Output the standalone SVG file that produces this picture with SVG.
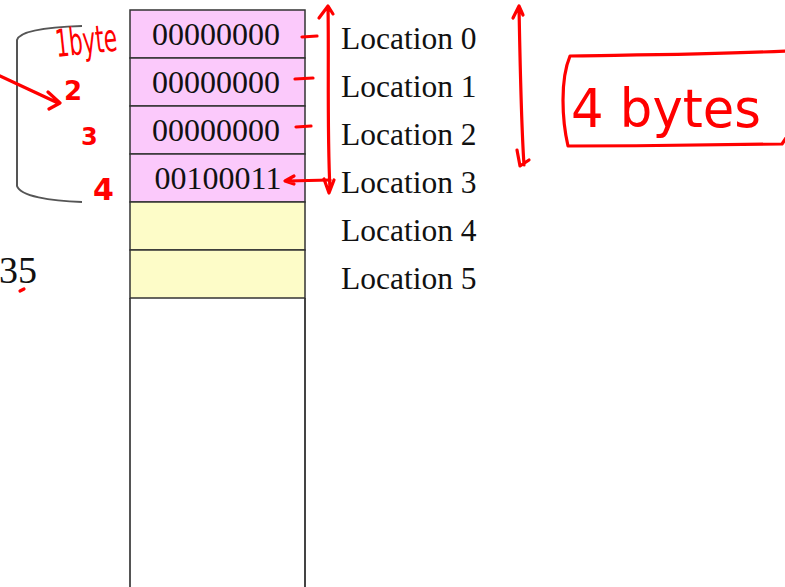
<svg xmlns="http://www.w3.org/2000/svg" width="785" height="587" viewBox="0 0 785 587">
<style>
.cell{stroke:#333;stroke-width:1.5}
.pink{fill:#fbc9fb}
.yel{fill:#fdfcc8}
.val{font-family:"Liberation Serif",serif;font-size:32px;fill:#111;text-anchor:middle}
.loc{font-family:"Liberation Serif",serif;font-size:31.5px;fill:#111}
.ink{fill:none;stroke:#f00;stroke-width:3.2;stroke-linecap:round;stroke-linejoin:round}
.hand{font-family:"DejaVu Sans",sans-serif;fill:#f00}
</style>
<rect x="0" y="0" width="785" height="587" fill="#fff"/>
<g id="memory">
<line x1="130" y1="298" x2="130" y2="587" stroke="#555" stroke-width="2"/>
<line x1="305" y1="298" x2="305" y2="587" stroke="#444" stroke-width="2"/>
</g>
<g id="cell0"><rect class="cell pink" x="130" y="10" width="175" height="48"/><text class="val" x="216" y="45">00000000</text></g>
<g id="cell1"><rect class="cell pink" x="130" y="58" width="175" height="48"/><text class="val" x="216" y="93">00000000</text></g>
<g id="cell2"><rect class="cell pink" x="130" y="106" width="175" height="48"/><text class="val" x="216" y="141">00000000</text></g>
<g id="cell3"><rect class="cell pink" x="130" y="154" width="175" height="48"/><text class="val" x="218" y="189">00100011</text></g>
<g id="cell4"><rect class="cell yel" x="130" y="202" width="175" height="48"/></g>
<g id="cell5"><rect class="cell yel" x="130" y="250" width="175" height="48"/></g>
<g id="labels">
<text class="loc" x="341" y="49">Location 0</text>
<text class="loc" x="341" y="97">Location 1</text>
<text class="loc" x="341" y="145">Location 2</text>
<text class="loc" x="341" y="193">Location 3</text>
<text class="loc" x="341" y="241">Location 4</text>
<text class="loc" x="341" y="289">Location 5</text>
</g>
<text x="-1" y="283" font-family="Liberation Serif,serif" font-size="38" fill="#111">35</text>
<g id="connectors">
<path d="M82,26 C50,27 20,30 17,40 L17,186 C20,196 50,201 82,202" fill="none" stroke="#555" stroke-width="2"/>
<path class="ink" d="M20,291 L24,289"/>
<path class="ink" d="M0,76 L58,103 M48,92 L60,103 L49,109"/>
<path class="ink" d="M302,37 L317,36 M295,79 L313,78 M296,127 L311,126"/>
<path class="ink" d="M319,18 L328,6 L333,14 M328,6 C329,60 327,130 330,190 M324,179 L329,193 L334,180"/>
<path class="ink" d="M330,180 L287,181 M294,176 L285,181 L294,184"/>
<path class="ink" d="M513,18 L519,6 L523,15 M519,6 C520,60 521,120 524,165 M517,150 L520,166 L529,160"/>
<path class="ink" d="M786,51 C700,55 620,55 570,56 C560,80 562,120 568,146 C640,146 720,145 782,144 L786,138"/>
</g>
<g id="handwriting">
<text class="hand" x="55" y="54" font-size="38" textLength="62" lengthAdjust="spacingAndGlyphs" transform="rotate(-6 85 40)">1byte</text>
<text class="hand" x="64" y="100" font-size="26" font-weight="bold">2</text>
<text class="hand" x="81" y="145" font-size="24" font-weight="bold">3</text>
<text class="hand" x="93" y="200" font-size="30" font-weight="bold">4</text>
<text class="hand" x="571" y="127" font-size="54" textLength="190" lengthAdjust="spacingAndGlyphs">4 bytes</text>
</g>
</svg>
